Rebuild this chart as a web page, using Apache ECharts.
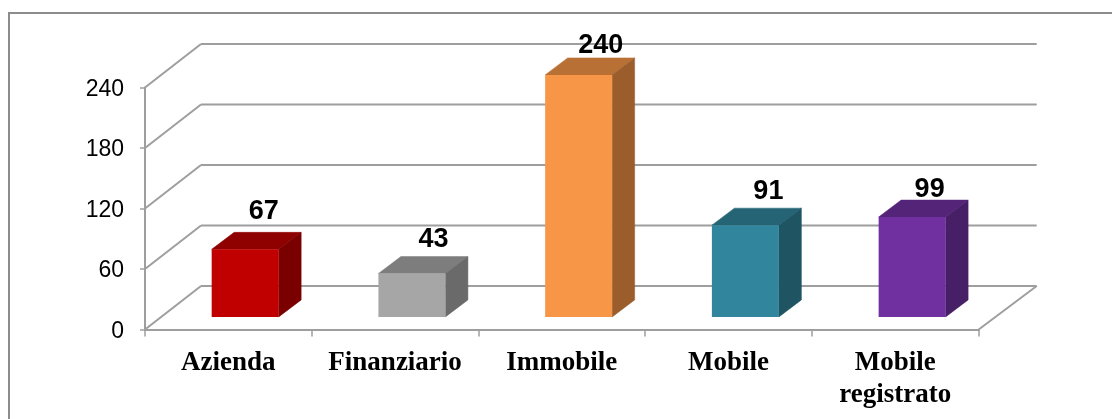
<!DOCTYPE html>
<html><head><meta charset="utf-8">
<style>html,body{margin:0;padding:0;background:#fff}#c{width:1112px;height:419px}</style>
<script src="https://cdn.jsdelivr.net/npm/echarts@6/dist/echarts.min.js"></script>
</head><body><div id="c"></div>
<script>
const categories = ['Azienda','Finanziario','Immobile','Mobile','Mobile\nregistrato'];
const values = [67,43,240,91,99];
const yTicks = [0,60,120,180,240];
const frontColors = ['#C00000','#A6A6A6','#F79646','#31859C','#7030A0'];
const topColors = ['#8F0000','#7D7D7D','#B97035','#256475','#542478'];
const sideColors = ['#7A0000','#6A6A6A','#9A5D2B','#1F5463','#471F66'];
const labelNudgeX = [18.5,21.5,22,23,17.5];
const labelNudgeY = [-21,-17,-12,-17,-11];

const depthXL = 56, depthXR = 58, depthY = 43.5; // wall depth
const offX = 16.8, offY = -12.6;       // bar offset from front plane
const barW = 67, barDX = 22.5, barDY = 17;
const lineC = '#9E9E9E';

function poly(points, fill){
  return {type:'polygon', shape:{points}, style:{fill, stroke:fill, lineWidth:0.5}};
}
function line(x1,y1,x2,y2,w){
  return {type:'line', shape:{x1,y1,x2,y2}, style:{stroke:lineC, lineWidth:w||2}};
}
const chart = echarts.init(document.getElementById('c'), null, {renderer:'canvas'});
chart.setOption({
  animation:false,
  backgroundColor:'#fff',
  graphic:[{type:'polyline', silent:true, z:0,
    shape:{points:[[9,419],[9,13],[1112,13]]},
    style:{stroke:'#8C8C8C', lineWidth:2, fill:null}}],
  grid:{left:145, right:133.3, top:87.5, bottom:89.5, containLabel:false},
  xAxis:{type:'category', data:categories, boundaryGap:true,
    axisLine:{show:true, lineStyle:{color:lineC,width:2}},
    axisTick:{show:true, alignWithLabel:false, length:7, lineStyle:{color:lineC,width:1.5}},
    axisLabel:{interval:0, color:'#000', fontFamily:'Liberation Serif', fontWeight:'bold', fontSize:27, lineHeight:32, margin:18},
    splitLine:{show:false}},
  yAxis:{type:'value', min:0, max:240, interval:60,
    axisLine:{show:true, lineStyle:{color:lineC,width:2}},
    axisTick:{show:true, length:5, lineStyle:{color:lineC,width:1.5}},
    axisLabel:{margin:21, formatter:'{a|{value}}',
      rich:{a:{color:'#000', fontFamily:'Liberation Sans', fontSize:23, padding:[4,0,0,0]}}},
    splitLine:{show:false}},
  series:[
    {type:'custom', coordinateSystem:'cartesian2d', silent:true, z:1,
     data:yTicks.map(v=>[0,v]),
     renderItem(p,api){
       const v=api.value(1);
       const yp=api.coord([0,v])[1];
       const l=p.coordSys.x, r=l+p.coordSys.width;
       const kids=[line(l,yp,l+depthXL,yp-depthY),line(l+depthXL,yp-depthY,r+depthXR,yp-depthY)];
       if(v===0) kids.push(line(r,yp,r+depthXR,yp-depthY));
       return {type:'group',children:kids};
     }},
    {type:'custom', coordinateSystem:'cartesian2d', silent:true, z:3,
     data:values.map((v,i)=>[i,v]),
     encode:{x:0,y:1},
     clip:false,
     renderItem(p,api){
       const i=api.value(0), v=api.value(1);
       const top=api.coord([i,v]), base=api.coord([i,0]);
       const x0=top[0]+offX-barW/2, x1=x0+barW;
       const yT=top[1]+offY, yB=base[1]+offY;
       return {type:'group',children:[
         poly([[x0,yT],[x0+barDX,yT-barDY],[x1+barDX,yT-barDY],[x1,yT]],topColors[i]),
         poly([[x1,yT],[x1+barDX,yT-barDY],[x1+barDX,yB-barDY],[x1,yB]],sideColors[i]),
         {type:'rect',shape:{x:x0,y:yT,width:barW,height:yB-yT},style:{fill:frontColors[i]}},
         {type:'text',style:{text:String(v),x:top[0]+offX+labelNudgeX[i],y:yT-barDY+labelNudgeY[i],
           align:'center',verticalAlign:'middle',fill:'#000',
           font:'bold 27px "Liberation Sans"'}}
       ]};
     }}
  ]
});
</script></body></html>
